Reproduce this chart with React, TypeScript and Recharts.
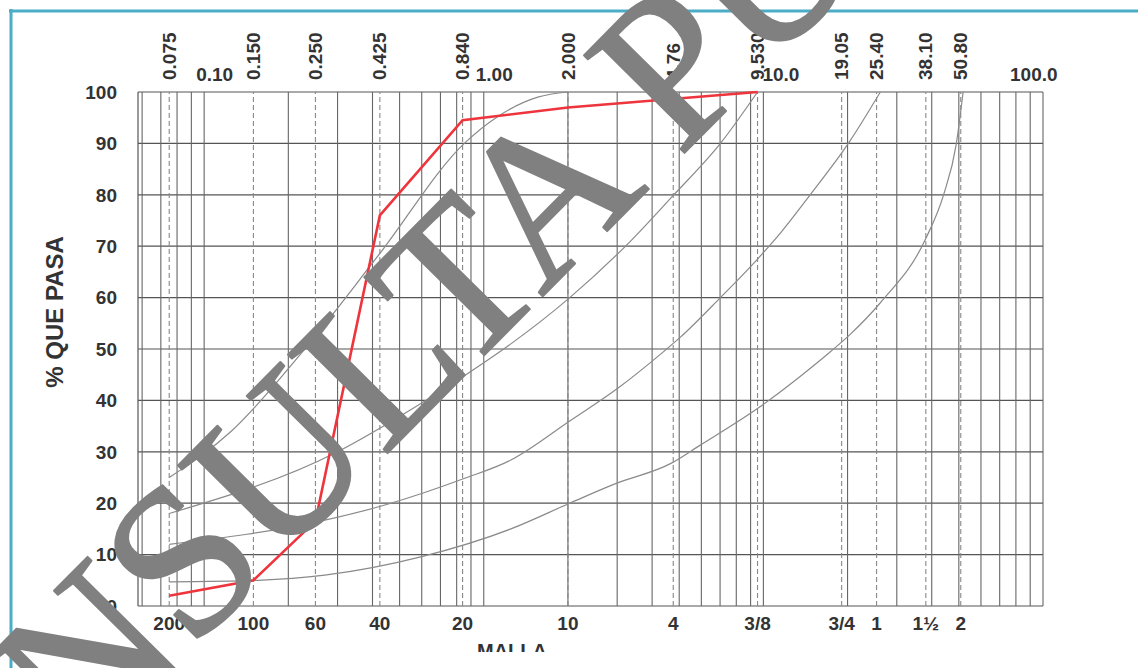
import React from 'react';
import { LineChart, Line, XAxis, YAxis, ReferenceLine } from 'recharts';

// Sieve openings (mm) and their labels
const sieveSizes = [0.075, 0.15, 0.25, 0.425, 0.84, 2, 4.76, 9.53, 19.05, 25.4, 38.1, 50.8];
const sieveLabelsMm = ['0.075', '0.150', '0.250', '0.425', '0.840', '2.000', '4.76', '9.530', '19.05', '25.40', '38.10', '50.80'];
const meshLabels = ['200', '100', '60', '40', '20', '10', '4', '3/8', '3/4', '1', '1½', '2'];
const decadeValues = [0.1, 1, 10, 100];
const decadeLabels = ['0.10', '1.00', '10.0', '100.0'];

// log grid
const gridX = [0.06, 0.07, 0.08, 0.09, 0.1, 0.2, 0.3, 0.4, 0.5, 0.6, 0.7, 0.8, 0.9, 1, 2, 3, 4, 5, 6, 7, 8, 9, 10, 20, 30, 40, 50, 60, 70, 80, 90, 100];
const gridY = [0, 10, 20, 30, 40, 50, 60, 70, 80, 90, 100];

// Sample curve (red)
const sampleSize = [0.075, 0.15, 0.25, 0.425, 0.84, 2, 9.53];
const samplePass = [2, 5, 16.5, 76, 94.5, 97, 100];

// Envelope curves (gray)
const c1Size = [0.075, 0.125, 0.225, 0.417, 0.863, 1.12, 1.56, 2.0];
const c1Pass = [25, 34, 49.5, 68, 90.3, 95.2, 99, 100];

const c2Size = [0.075, 0.3, 0.58, 0.863, 1.25, 2.03, 3.35, 4.69, 7.02, 9.53];
const c2Pass = [18, 30, 39, 45, 51, 60, 71, 79.5, 90, 100];

const c3Size = [0.075, 0.27, 0.44, 0.85, 1.25, 2.03, 3.04, 4.29, 5.05, 7.02, 9.53, 11.6, 14.7, 20.3, 26.2];
const c3Pass = [12, 16.7, 19.6, 24.8, 28.4, 36, 42.5, 49, 52.3, 60, 67.5, 72.8, 80, 90.3, 100];

const c4Size = [0.075, 0.156, 0.27, 0.6, 1.25, 2.03, 2.96, 4.69, 5.91, 9.75, 13.5, 17.4, 20.3, 26.2, 38.1, 44.1, 48.9, 51.8];
const c4Pass = [4.7, 5, 6, 9.6, 15, 20, 23.8, 27.8, 31.2, 38.8, 44.6, 49.5, 52.7, 59, 71.5, 80, 89.7, 100];

const toRows = (xs: number[], ys: number[]) => xs.map((x, i) => ({ x, y: ys[i] }));

const sampleData = toRows(sampleSize, samplePass);
const envelopes = [toRows(c1Size, c1Pass), toRows(c2Size, c2Pass), toRows(c3Size, c3Pass), toRows(c4Size, c4Pass)];

const FONT = '"Liberation Sans", Arial, Helvetica, sans-serif';
const TXT = '#333';
const DOMAIN: [number, number] = [0.058, 100];

const decadeDx = [-8, -8, -1, -33];

const TopTick = (props: any) => {
  const { x, y, payload } = props;
  const v = payload.value;
  const di = decadeValues.indexOf(v);
  if (di >= 0) {
    return (
      <text x={x + decadeDx[di]} y={y + 1} textAnchor="start" fontFamily={FONT} fontSize={19} fontWeight="bold" fill={TXT}>
        {decadeLabels[di]}
      </text>
    );
  }
  const si = sieveSizes.indexOf(v);
  return (
    <text x={x} y={y} transform={`rotate(-90 ${x} ${y})`} dy="0.35em" textAnchor="start" fontFamily={FONT} fontSize={19} fontWeight="bold" fill={TXT}>
      {sieveLabelsMm[si]}
    </text>
  );
};

const topTicks = [...sieveSizes, ...decadeValues].sort((a, b) => a - b);

export default function App() {
  const W = 1138;
  const H = 668;
  return (
    <div style={{ position: 'absolute', left: 0, top: 0, width: W, height: H, background: '#fff', overflow: 'hidden' }}>
      <LineChart width={W} height={H} margin={{ top: 12, right: 95, bottom: 22, left: 78 }}>
        <XAxis
          xAxisId="t"
          orientation="top"
          type="number"
          dataKey="x"
          scale="log"
          domain={DOMAIN}
          allowDataOverflow
          ticks={topTicks}
          interval={0}
          height={80}
          axisLine={false}
          tickLine={false}
          tickMargin={6}
          tick={<TopTick />}
        />
        <XAxis
          xAxisId="b"
          orientation="bottom"
          type="number"
          dataKey="x"
          scale="log"
          domain={DOMAIN}
          allowDataOverflow
          ticks={sieveSizes}
          interval={0}
          height={40}
          axisLine={false}
          tickLine={false}
          tickMargin={5}
          tickFormatter={(v: number) => meshLabels[sieveSizes.indexOf(v)]}
          tick={{ fontFamily: FONT, fontSize: 19, fontWeight: 'bold', fill: TXT }}
        />
        <YAxis
          type="number"
          domain={[0, 100]}
          ticks={gridY}
          interval={0}
          width={60}
          tickLine={false}
          axisLine={{ stroke: '#555', strokeWidth: 1.2 }}
          tickMargin={15}
          tick={{ fontFamily: FONT, fontSize: 19, fontWeight: 'bold', fill: TXT }}
        />
        {gridY.map((v) => (
          <ReferenceLine key={'gy' + v} xAxisId="b" y={v} stroke="#555" strokeWidth={1.2} />
        ))}
        {gridX.map((v) => (
          <ReferenceLine key={'gx' + v} xAxisId="b" x={v} stroke="#666" strokeWidth={1.1} />
        ))}
        {sieveSizes.map((v) => (
          <ReferenceLine key={'sx' + v} xAxisId="b" x={v} stroke="#888" strokeWidth={1.1} strokeDasharray="5 3" />
        ))}
        {envelopes.map((d, i) => (
          <Line
            key={'env' + i}
            xAxisId="b"
            data={d}
            dataKey="y"
            type="monotone"
            stroke="#8a8a8a"
            strokeWidth={1.2}
            dot={false}
            isAnimationActive={false}
          />
        ))}
        <Line
          xAxisId="b"
          data={sampleData}
          dataKey="y"
          type="linear"
          stroke="#EE343C"
          strokeWidth={2.6}
          dot={false}
          isAnimationActive={false}
        />
      </LineChart>
      <svg width={W} height={H} style={{ position: 'absolute', left: 0, top: 0, pointerEvents: 'none' }}>
        <defs>
          <clipPath id="mallaClip">
            <rect x={0} y={0} width={W} height={652} />
          </clipPath>
        </defs>
        <line x1={9} y1={11} x2={W} y2={11} stroke="#4BACC6" strokeWidth={3} />
        <line x1={11} y1={9} x2={11} y2={H} stroke="#4BACC6" strokeWidth={3} />
        <text x={55} y={312} transform="rotate(-90 55 312)" textAnchor="middle" dy="0.35em" fontFamily={FONT} fontSize={24} fontWeight="bold" fill={TXT}>
          % QUE PASA
        </text>
        <text x={512} y={658} textAnchor="middle" fontFamily={FONT} fontSize={20} fontWeight="bold" fill={TXT} clipPath="url(#mallaClip)">
          MALLA
        </text>
        <text
          x={-127}
          y={973}
          transform="rotate(-45.3 -127 973)"
          fontFamily='"Liberation Serif", "Times New Roman", serif'
          fontSize={214}
          fill="#808080"
          stroke="#808080"
          strokeWidth={2}
          strokeLinejoin="round"
        >
          CONSULTA PÚBLICA
        </text>
      </svg>
    </div>
  );
}
